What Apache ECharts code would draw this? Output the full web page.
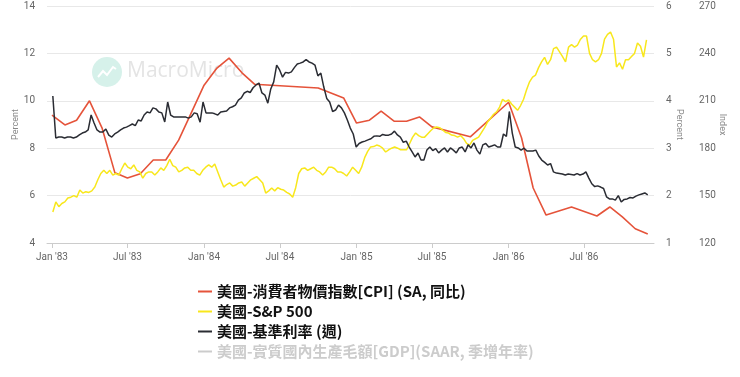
<!DOCTYPE html>
<html><head><meta charset="utf-8">
<script src="https://cdn.jsdelivr.net/npm/echarts@6/dist/echarts.min.js"></script>
<style>html,body{margin:0;padding:0;background:#fff}#c{width:740px;height:377px}</style>
</head><body><div id="c"></div>
<script>
// ---- series names ----
const seriesNames = ['美國-消費者物價指數[CPI] (SA, 同比)', '美國-S&P 500', '美國-基準利率 (週)', '美國-實質國內生產毛額[GDP](SAAR, 季增年率)'];

// ---- x tick labels ----
const tickDates = ['1983-01-01','1983-07-01','1984-01-01','1984-07-01','1985-01-01','1985-07-01','1986-01-01','1986-07-01'];
const tickLabels = ["Jan '83","Jul '83","Jan '84","Jul '84","Jan '85","Jul '85","Jan '86","Jul '86"];

// ---- CPI YoY (right Percent axis), monthly points ----
const cpiDates = ['1983-01-01','1983-02-01','1983-03-01','1983-04-01','1983-05-01','1983-06-01','1983-07-01','1983-08-01','1983-09-01','1983-10-01','1983-11-01','1983-12-01',
 '1984-01-01','1984-02-01','1984-03-01','1984-04-01','1984-05-01','1984-10-01','1984-12-01',
 '1985-01-01','1985-02-01','1985-03-01','1985-04-01','1985-05-01','1985-06-01','1985-07-01','1985-10-01',
 '1986-01-01','1986-02-01','1986-03-01','1986-04-01','1986-06-01','1986-08-01','1986-09-01','1986-10-01','1986-11-01','1986-12-01'];
const cpiValues = [3.70,3.49,3.59,4.00,3.43,2.48,2.37,2.46,2.75,2.75,3.17,3.74,
 4.33,4.69,4.90,4.59,4.35,4.27,4.06,
 3.53,3.59,3.78,3.57,3.57,3.66,3.45,3.24,
 3.97,3.22,2.16,1.59,1.76,1.57,1.76,1.55,1.30,1.19];

// ---- S&P 500 (Index axis), roughly weekly from start to end ----
const spxStart = '1983-01-03', spxEnd = '1986-11-28';
const spxValues = [139.6,146,143,145,146,148.5,149,150,149,153.5,
 151.6,152.5,152,153,155.4,160,164,166,164,166,
 163,164,163,167,170.6,168,167,169.4,166,165,
 161,164,165,165,163,165,167.5,166,169,173,
 169,168,165,166,167.5,168,166,166,164,163,
 166,168,169.4,168,170,165,160,155.4,157,158,
 156,156.7,158,158.6,156,158,160,161,162,160,
 158,151.6,153,154.8,153,155,154,153.5,152,151,
 149,155,164,167,167.5,166,167,168,166,165,
 163,165,168,168,167,165,165,164,162.4,165,
 168,166,164,168,174,178,180.8,181,182,181.4,
 180,177.6,179,180,180.8,180,179,179,179,183,
 187,189.6,188,187,187,189,191,192.8,193.4,193,
 191.5,190,189.6,188.3,188,187,188,186,183,182,
 185,186,187,190,193,196.6,199,201.5,203,206,
 211,209.5,210.5,208,206,204,207,211,217,222,
 225,226.3,231,234.6,237.5,233,236,243,244,241,
 238,234.6,244,245.5,244,245.3,249,251,251,240,
 236,234.6,236,240,249,252,253.5,249,231.4,234,
 230,236,236,238,240,246.6,244.5,237.7,248.5];

// ---- Fed funds rate weekly (left Percent axis) ----
const rateStart = '1983-01-03', rateEnd = '1986-12-01';
const rateValues = [10.20,8.43,8.47,8.47,8.43,8.47,8.47,8.43,8.47,8.56,
 8.64,8.68,8.77,9.40,9.06,8.77,8.68,8.68,8.81,8.55,
 8.47,8.60,8.68,8.77,8.85,8.89,8.95,9.02,8.95,9.19,
 9.15,9.40,9.53,9.49,9.70,9.66,9.53,9.49,9.11,9.95,
 9.40,9.32,9.32,9.32,9.32,9.32,9.27,9.32,9.49,9.45,
 9.10,9.95,9.49,9.49,9.49,9.45,9.40,9.53,9.55,9.57,
 9.70,9.75,9.82,10.03,10.12,10.33,10.40,10.35,10.55,10.67,
 10.75,10.33,10.24,9.90,10.50,10.80,11.51,11.30,11.00,11.20,
 11.17,11.22,11.40,11.55,11.59,11.64,11.74,11.64,11.59,11.51,
 11.05,11.17,10.58,10.10,9.95,9.55,9.61,9.82,9.70,9.49,
 9.19,8.85,8.60,8.05,8.20,8.26,8.30,8.35,8.40,8.50,
 8.52,8.50,8.58,8.55,8.55,8.60,8.72,8.56,8.47,8.25,
 8.30,8.05,7.84,7.63,7.80,7.50,7.50,7.92,8.05,7.90,
 7.98,7.80,7.92,8.01,7.84,8.01,7.92,7.80,8.01,8.05,
 7.84,8.14,8.01,8.22,7.92,7.75,8.14,8.20,8.05,8.09,
 8.14,8.05,8.05,8.60,8.50,9.55,8.64,8.05,8.01,7.92,
 8.00,7.88,7.88,7.88,7.92,7.67,7.50,7.40,7.29,7.35,
 7.00,6.95,6.93,6.91,6.87,6.91,6.89,6.87,6.93,6.87,
 6.91,7.00,6.74,6.50,6.38,6.41,6.36,6.30,5.95,5.86,
 5.86,5.81,6.00,5.73,5.84,5.86,5.92,5.90,5.98,6.03,
 6.07,6.11,6.03];

// ---- GDP (hidden in legend) ----
const gdpDates = [];
const gdpValues = [];

// ---- helpers ----
function ts(d) { return new Date(d + 'T00:00:00Z').getTime(); }
function spread(start, end, vals) {
  const t0 = ts(start), t1 = ts(end), n = vals.length;
  return vals.map((v, i) => [t0 + (t1 - t0) * i / (n - 1), v]);
}
function pair(dates, vals) { return dates.map((d, i) => [ts(d), vals[i]]); }
const tickTs = tickDates.map(ts);
const labelMap = {}; tickTs.forEach((t, i) => labelMap[t] = tickLabels[i]);

const axisLabelStyle = { color: '#666', fontSize: 10, fontFamily: 'Roboto, sans-serif' };
const nameStyle = { color: '#888', fontSize: 9, fontFamily: 'Roboto, sans-serif' };

const chart = echarts.init(document.getElementById('c'), null, { renderer: 'canvas' });
chart.setOption({
  animation: false,
  backgroundColor: '#fff',
  grid: { left: 47, right: 86, top: 6, bottom: 134, containLabel: false, outerBoundsMode: 'none' },
  graphic: [
    { type: 'circle', shape: { cx: 107, cy: 72, r: 15 }, style: { fill: '#d6f1ea' }, z: -1 },
    { type: 'polyline', shape: { points: [[98,77],[103,71],[107,75],[113,67],[116,69]] }, style: { stroke: '#fff', lineWidth: 2, fill: null }, z: -1 },
    { type: 'text', left: 127, top: 61, style: { text: 'MacroMicro', fill: '#e4e4e4', font: '500 21px "Open Sans", sans-serif' }, z: -1 }
  ],
  xAxis: {
    type: 'value',
    min: ts('1982-12-20'),
    max: ts('1986-12-16'),
    axisLine: { show: true, onZero: false, lineStyle: { color: '#ccc' } },
    axisTick: { show: true, customValues: tickTs, length: 5, lineStyle: { color: '#ccc' } },
    axisLabel: { customValues: tickTs, formatter: v => labelMap[v] || '', margin: 9, ...axisLabelStyle },
    splitLine: { show: false }
  },
  yAxis: [
    { type: 'value', min: 4, max: 14, interval: 2, position: 'left',
      name: 'Percent', nameLocation: 'middle', nameGap: 27, nameRotate: 90, nameTextStyle: nameStyle, nameMoveOverlap: false,
      axisLabel: { margin: 12, ...axisLabelStyle }, axisLine: { show: false }, axisTick: { show: false },
      splitLine: { lineStyle: { color: '#e8e8e8' } } },
    { type: 'value', min: 1, max: 6, interval: 1, position: 'right',
      name: 'Percent', nameLocation: 'middle', nameGap: 21, nameRotate: -90, nameTextStyle: nameStyle, nameMoveOverlap: false,
      axisLabel: { margin: 12, ...axisLabelStyle }, axisLine: { show: false }, axisTick: { show: false },
      splitLine: { show: false } },
    { type: 'value', min: 120, max: 270, interval: 30, position: 'right', offset: 33,
      name: 'Index', nameLocation: 'middle', nameGap: 31, nameRotate: -90, nameTextStyle: nameStyle, nameMoveOverlap: false,
      axisLabel: { margin: 12, ...axisLabelStyle }, axisLine: { show: false }, axisTick: { show: false },
      splitLine: { show: false } }
  ],
  legend: {
    orient: 'vertical', left: 198, top: 284, padding: 0, itemGap: 5,
    icon: 'rect', itemWidth: 14, itemHeight: 2,
    textStyle: { fontSize: 15, color: '#111', fontWeight: 600, fontFamily: '"Noto Sans CJK TC", sans-serif' },
    inactiveColor: '#ccc',
    data: seriesNames,
    selected: { [seriesNames[3]]: false }
  },
  series: [
    { name: seriesNames[0], type: 'line', yAxisIndex: 1, showSymbol: false, color: '#e5533a',
      lineStyle: { width: 1.6 }, data: pair(cpiDates, cpiValues) },
    { name: seriesNames[1], type: 'line', yAxisIndex: 2, showSymbol: false, color: '#f8e71c',
      lineStyle: { width: 1.5 }, data: spread(spxStart, spxEnd, spxValues) },
    { name: seriesNames[2], type: 'line', yAxisIndex: 0, showSymbol: false, color: '#2a2c33',
      lineStyle: { width: 1.5 }, data: spread(rateStart, rateEnd, rateValues) },
    { name: seriesNames[3], type: 'line', yAxisIndex: 0, showSymbol: false, color: '#9aa0a6',
      lineStyle: { width: 1.5 }, data: pair(gdpDates, gdpValues) }
  ]
});
</script></body></html>
